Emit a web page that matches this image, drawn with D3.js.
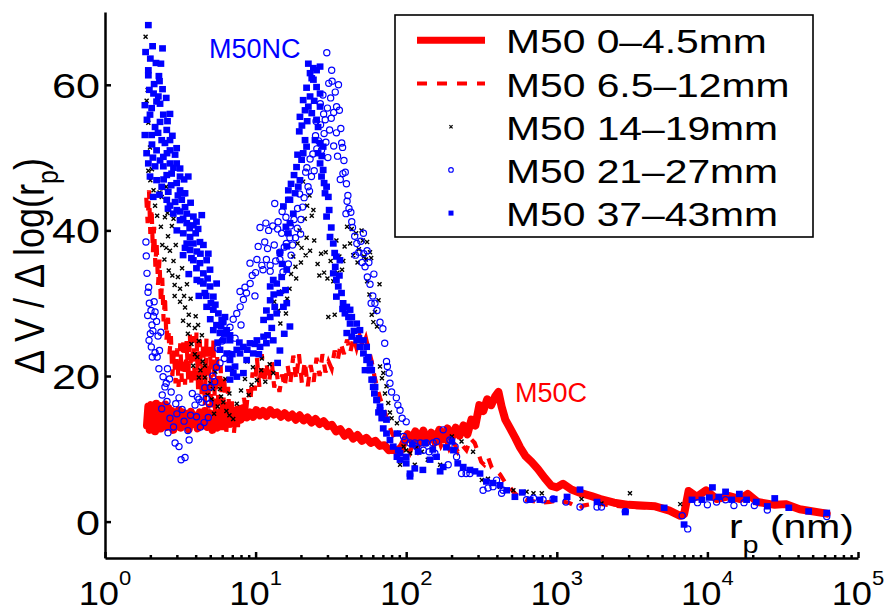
<!DOCTYPE html>
<html><head><meta charset="utf-8">
<script src="https://cdn.jsdelivr.net/npm/d3@7"></script>
<style>
body{margin:0;background:#fff}
svg{display:block}
text{font-family:"Liberation Sans",Arial,Helvetica,sans-serif}
</style>
</head><body>
<svg id="chart" width="889" height="614"></svg>
<script>
// ---------- data (r_p in nm, dV/dlog(r_p)) ----------
const xTickValues = [1, 10, 100, 1000, 10000, 100000];
const xTickExponents = ["0", "1", "2", "3", "4", "5"];
const yTickValues = [0, 20, 40, 60];
const seriesNames = ["M50 0\u20134.5mm", "M50 6.5\u201312mm", "M50 14\u201319mm", "M50 21\u201327mm", "M50 37\u201343mm"];
const annotations = ["M50NC", "M50C"];

const m50_0_45 = [[1.90,13.2],[1.94,15.8],[1.98,12.6],[2.02,16.0],[2.06,13.0],[2.10,15.5],[2.15,12.4],[2.19,16.2],[2.24,13.1],[2.29,15.9],[2.34,12.8],[2.39,15.4],[2.45,13.4],[2.51,16.1],[2.57,13.0],[2.63,15.6],[2.70,13.3],[2.77,15.2],[2.84,12.6],[2.92,14.9],[3.00,13.1],[3.09,15.3],[3.18,12.9],[3.28,15.0],[3.38,13.2],[3.49,14.8],[3.60,12.7],[3.72,15.1],[3.85,13.4],[3.98,14.6],[4.12,12.8],[4.27,15.0],[4.43,13.2],[4.60,15.2],[4.78,13.0],[4.97,14.9],[5.17,12.6],[5.38,14.7],[5.60,12.9],[5.84,15.1],[6.09,13.3],[6.36,15.0],[6.64,13.6],[6.94,15.3],[7.26,13.5],[7.60,15.4],[7.96,14.0],[8.34,15.6],[8.75,14.3],[9.18,15.0],[9.64,14.4],[10.1,15.3],[10.7,14.6],[11.2,15.2],[11.8,14.5],[12.5,15.3],[13.2,14.7],[13.9,15.0],[14.7,14.4],[15.6,14.9],[16.5,14.3],[17.5,14.7],[18.5,14.0],[19.6,14.6],[20.8,13.9],[22.1,14.3],[23.5,13.6],[25.0,14.1],[26.6,13.4],[28.3,13.8],[30.1,13.1],[32.1,13.3],[34.2,12.4],[36.5,12.7],[39.0,11.8],[41.6,12.3],[44.4,11.4],[47.5,11.9],[50.8,11.1],[54.4,11.5],[58.2,10.8],[62.3,11.1],[66.8,10.4],[71.6,10.5],[76.8,9.8],[82.4,10.0],[88.4,9.6],[94.8,10.5],[102,12.0],[108,11.2],[115,12.4],[122,10.8],[130,12.5],[138,11.0],[147,12.2],[156,10.9],[166,12.6],[177,11.3],[188,12.8],[200,11.5],[213,12.9],[226,11.8],[240,13.2],[255,12.0],[271,14.0],[288,13.2],[306,16.0],[325,15.2],[345,16.8],[367,16.0],[390,17.2],[410,17.8],[430,15.8],[455,14.0],[490,12.8],[530,11.5],[570,10.2],[620,9.0],[680,8.2],[750,7.2],[830,6.0],[920,4.9],[1000,4.7],[1100,5.2],[1250,4.4],[1450,3.9],[1700,3.5],[1950,3.1],[2400,2.6],[3000,2.3],[4500,2.1],[5600,1.5],[6600,0.8],[7000,1.0],[7500,4.2],[8500,3.4],[9800,4.3],[11500,3.1],[14000,3.5],[16500,3.1],[18500,3.8],[21500,2.7],[28000,2.3],[33000,2.4],[41000,1.7],[62000,1.1]];

const m50_65_12 = [[1.88,44.5],[1.92,41.0],[1.96,45.5],[2.00,39.5],[2.04,43.0],[2.08,37.0],[2.12,40.5],[2.16,35.0],[2.20,38.5],[2.25,32.5],[2.30,36.0],[2.35,30.0],[2.40,33.5],[2.45,27.5],[2.50,31.0],[2.56,25.0],[2.62,28.0],[2.68,23.0],[2.74,25.5],[2.80,20.0],[2.87,23.5],[2.94,19.0],[3.01,23.8],[3.08,18.5],[3.16,24.5],[3.24,19.2],[3.32,25.2],[3.40,18.8],[3.48,24.8],[3.57,19.5],[3.66,25.8],[3.75,18.6],[3.85,25.5],[3.95,19.0],[4.05,26.0],[4.15,18.2],[4.26,25.0],[4.37,17.5],[4.48,24.6],[4.60,16.0],[4.72,25.2],[4.85,15.5],[4.98,24.0],[5.11,14.0],[5.25,25.0],[5.40,13.2],[5.55,23.0],[5.70,12.8],[5.86,21.5],[6.03,12.2],[6.20,20.0],[6.38,11.8],[6.57,18.5],[6.76,12.5],[6.96,16.5],[7.17,12.0],[7.39,15.0],[7.62,12.8],[7.86,16.0],[8.11,14.0],[8.37,17.0],[8.64,15.0],[8.93,18.2],[9.23,16.5],[9.55,20.5],[9.88,18.0],[10.2,22.5],[10.6,18.5],[11.0,23.0],[11.4,19.0],[11.8,21.8],[12.3,19.2],[12.8,22.0],[13.3,18.4],[13.8,20.5],[14.4,17.8],[15.0,20.2],[15.6,18.5],[16.3,21.5],[17.0,19.0],[17.8,22.8],[18.6,19.5],[19.4,23.0],[20.3,19.0],[21.2,22.0],[22.2,18.6],[23.2,21.5],[24.3,19.2],[25.4,22.5],[26.6,20.0],[27.8,23.0],[29.1,20.5],[30.5,22.0],[32.0,21.0],[33.5,23.5],[35.1,22.2],[36.8,24.5],[38.6,23.0],[40.5,25.0],[42.5,23.2],[44.6,25.3],[46.8,23.8],[49.1,25.5],[51.5,24.0],[54.0,25.2],[56.5,23.5],[59.0,22.0],[61.5,20.0],[64.0,18.5],[67.0,17.0],[70.0,15.8],[73.5,14.5],[77.0,13.2],[81.0,12.0],[85.0,11.2],[90.0,10.2],[95.0,9.8],[100,10.6],[106,9.5],[112,11.0],[119,9.8],[126,11.6],[134,10.2],[142,11.8],[151,10.0],[160,12.0],[170,10.4],[181,11.5],[193,10.0],[206,11.0],[220,9.6],[235,10.5],[251,9.8],[268,11.4],[285,10.8],[300,9.5],[315,8.2],[330,7.8],[350,8.8],[370,7.4],[395,7.0],[420,6.5],[450,5.5],[480,4.9],[520,4.0],[560,3.4],[620,3.0],[700,2.8],[800,2.6],[900,2.7],[1000,2.9],[1200,2.6],[1426,1.8],[1500,2.2],[1800,2.5],[2400,2.2],[3000,2.0],[4500,1.9],[5600,1.4],[6600,0.7],[7000,0.9],[7500,4.0],[8500,3.3],[9800,4.2],[11500,3.0],[14000,3.4],[16500,3.0],[18500,3.6],[21500,2.6],[28000,2.2],[33000,2.3],[41000,1.6],[62000,1.0]];

const m50_14_19 = [[1.86,66.6],[1.92,59.3],[1.89,57.8],[1.94,54.8],[1.99,51.4],[1.94,48.2],[2.00,46.9],[2.10,45.5],[2.25,47.0],[2.38,44.6],[2.55,46.0],[2.68,43.5],[2.15,43.4],[2.45,45.8],[2.22,42.0],[2.35,40.5],[2.50,41.8],[2.62,39.2],[2.78,40.6],[2.95,38.0],[2.40,38.0],[2.70,37.2],[2.48,36.0],[2.65,34.5],[2.85,35.8],[3.05,33.6],[3.25,34.8],[2.90,32.5],[3.15,32.0],[2.90,31.0],[3.15,30.2],[3.40,29.4],[3.70,30.6],[4.00,28.2],[3.30,27.6],[3.60,27.0],[3.95,26.6],[3.55,25.8],[3.75,24.4],[3.95,23.0],[4.20,24.8],[4.45,22.0],[3.85,21.4],[4.30,20.8],[4.2,19.8],[4.6,21.4],[5.0,19.0],[5.4,20.6],[5.8,18.2],[6.3,19.6],[6.7,17.6],[4.8,17.4],[5.1,16.8],[5.6,15.8],[6.1,16.4],[6.7,14.6],[7.1,14.1],[5.3,14.8],[7.5,16.2],[8.0,18.0],[8.5,19.6],[9.0,17.4],[9.6,21.2],[10.2,19.4],[10.9,20.8],[11.6,19.2],[12.4,21.6],[13.1,20.4],[7.0,21.0],[8.8,22.0],[12.5,28.0],[13.3,30.2],[14.2,29.0],[15.0,31.6],[15.9,28.6],[16.8,32.0],[17.2,34.0],[17.8,36.4],[18.4,35.0],[19.0,38.2],[19.6,40.0],[20.2,37.6],[20.7,46.7],[21.2,41.6],[22.0,43.4],[22.8,44.8],[23.6,42.0],[24.2,42.8],[21.8,39.0],[23.0,37.2],[24.5,38.6],[25.8,35.4],[27.2,36.8],[28.5,34.2],[30.0,33.4],[31.5,35.8],[32.8,33.0],[30.4,28.1],[33.5,28.4],[34.4,38.6],[36.0,36.4],[37.5,34.6],[39.0,37.8],[40.5,40.5],[42.4,38.2],[44.5,36.6],[46.5,39.6],[48.5,37.4],[50.5,40.0],[52.5,36.4],[55.0,38.4],[57.5,37.0],[55.0,33.0],[57.0,31.2],[59.0,28.4],[62.0,28.8],[60.5,27.4],[64.0,26.8],[65.5,30.4],[66.5,32.6],[67.0,21.3],[69.0,19.7],[70.5,20.4],[72.3,17.6],[74.0,18.6],[76.0,16.3],[78.0,15.0],[80.0,14.2],[86.8,13.5],[90.0,12.2],[96.0,10.3],[100,9.8],[91.0,7.8],[106,9.4],[114,7.8],[117,10.2],[127,9.6],[139,8.5],[168,7.8],[201,11.7],[233,11.0],[278,9.6],[318,5.7],[349,5.9],[420,4.8],[515,4.3],[630,4.1],[700,3.9],[795,3.9],[1460,3.1],[1980,2.5],[3060,3.9],[6600,2.4],[2.05,48.4],[2.30,45.2],[2.60,42.4],[2.85,41.6],[2.55,37.6],[2.80,33.8],[3.50,32.6],[3.35,31.0],[3.60,28.4],[4.15,27.0],[4.40,25.6],[4.10,22.6],[4.60,19.8],[5.2,18.2],[5.9,17.2],[6.4,15.2],[9.4,18.8],[11.0,22.4],[14.6,27.2],[16.2,30.6],[18.6,33.4],[20.0,35.6],[21.5,36.6],[26.5,33.8],[29.2,37.0],[35.0,34.2],[38.2,35.8],[43.5,40.2],[47.5,35.6],[51.5,38.6],[54.0,36.0],[58.5,36.2]];

const m50_21_27 = [[1.87,38.4],[1.90,34.1],[1.93,31.5],[1.97,30.0],[1.95,32.2],[2.02,29.0],[2.10,28.2],[2.20,27.5],[2.05,27.0],[2.15,28.8],[2.00,25.8],[2.08,26.2],[2.25,25.5],[2.35,26.0],[2.15,23.2],[2.22,22.6],[2.30,23.5],[1.96,24.9],[2.06,22.6],[2.43,19.9],[2.55,19.0],[2.68,19.6],[2.50,18.5],[2.40,17.4],[2.58,16.5],[2.75,17.8],[2.95,16.2],[3.10,17.0],[2.70,14.2],[2.85,13.0],[2.92,10.8],[3.10,10.3],[3.55,12.5],[3.62,11.2],[3.35,13.8],[3.20,8.5],[3.40,8.8],[3.96,16.0],[4.20,16.8],[4.10,17.1],[4.40,16.4],[4.70,16.9],[4.95,16.2],[4.05,14.4],[4.30,13.0],[4.55,13.6],[4.85,14.3],[5.00,18.5],[5.20,20.0],[5.35,19.2],[5.50,21.2],[5.80,21.8],[6.20,22.4],[6.76,23.0],[6.76,26.7],[7.10,27.8],[7.50,28.6],[7.90,29.5],[8.30,30.5],[8.70,31.4],[7.88,31.6],[8.50,32.2],[9.20,32.7],[9.90,31.0],[9.18,35.5],[10.2,36.0],[11.0,35.2],[11.8,36.0],[11.2,34.6],[12.5,35.2],[10.7,40.4],[11.7,41.0],[12.2,40.0],[13.0,40.6],[13.4,43.7],[14.0,40.2],[14.9,39.6],[15.9,41.8],[14.5,37.0],[16.9,39.0],[12.5,34.4],[13.3,38.0],[14.1,41.2],[14.5,36.0],[15.2,34.3],[15.5,37.7],[16.5,35.4],[17.0,40.6],[18.0,41.5],[18.9,40.3],[17.6,38.0],[19.9,39.5],[20.5,43.2],[19.6,45.0],[21.5,48.0],[22.3,46.0],[21.9,48.6],[22.8,45.4],[23.0,49.8],[24.0,50.5],[25.5,51.2],[26.2,52.3],[27.4,51.0],[28.5,53.3],[29.3,52.1],[30.2,50.0],[25.2,55.0],[26.9,57.4],[28.3,56.0],[29.0,55.2],[30.0,56.8],[31.5,58.2],[32.2,60.5],[33.8,59.0],[34.5,57.0],[32.0,62.0],[29.7,64.4],[35.5,60.0],[36.0,56.5],[36.8,54.0],[37.3,52.0],[37.8,51.4],[38.6,49.6],[39.4,48.0],[38.0,47.8],[40.1,46.4],[41.0,44.8],[41.7,43.0],[39.8,42.3],[42.9,42.5],[44.0,40.4],[45.5,39.2],[47.0,38.2],[48.5,37.0],[50.0,38.5],[52.3,36.8],[53.3,35.0],[55.2,33.6],[57.5,32.6],[60.0,31.0],[62.0,30.0],[64.0,29.0],[67.0,27.4],[70.0,26.5],[72.0,24.5],[74.0,22.0],[75.0,21.3],[77.0,20.4],[78.0,19.0],[80.0,17.8],[86.0,17.0],[88.0,16.0],[91.0,15.3],[94.0,14.2],[100.0,13.7],[96.0,11.7],[98.0,11.2],[106.0,10.8],[114.0,10.8],[124.0,10.8],[136.0,10.8],[151.0,10.8],[159.0,11.0],[176.0,12.6],[117.0,10.3],[130.0,9.8],[142.0,9.6],[155.0,9.4],[195.0,11.2],[211.0,10.3],[216.0,8.9],[190.0,7.8],[233.0,6.6],[250.0,6.6],[265.0,6.6],[324.0,4.3],[349.0,4.6],[377.0,4.8],[398.0,5.7],[430.0,3.9],[440.0,4.3],[630.0,3.0],[700.0,3.2],[810.0,3.0],[945.0,3.1],[1150.0,2.7],[1426.0,2.0],[1850.0,2.0],[1980.0,2.0],[2850.0,1.4],[6800.0,0.8],[7400.0,-1.0],[8600.0,2.6],[10000.0,2.3],[11500.0,2.7],[13200.0,3.0],[15000.0,2.2],[17500.0,2.6],[20500.0,2.2],[25000.0,1.6],[62000.0,0.7],[1.88,36.5],[1.92,28.3],[2.12,30.2],[2.03,24.0],[2.28,21.0],[2.60,21.0],[2.38,15.5],[2.62,12.2],[3.00,14.8],[3.25,15.4],[3.70,14.6],[3.80,17.6],[4.60,18.4],[5.60,23.8],[6.00,24.8],[6.40,26.0],[7.30,25.2],[8.00,27.0],[9.50,33.8],[10.0,34.2],[10.4,37.8],[11.5,38.4],[12.0,37.5],[13.6,35.8],[15.0,42.6],[16.0,38.2],[17.2,36.6],[18.4,39.0],[19.0,43.0],[20.0,41.5],[21.0,44.5],[23.5,47.4],[24.5,48.2],[25.0,53.0],[27.0,54.5],[28.0,58.6],[30.6,60.2],[31.0,53.8],[31.8,55.4],[33.0,56.2],[33.0,51.6],[34.4,53.4],[35.0,50.2],[36.5,47.0],[40.5,44.0],[43.5,41.2],[46.0,36.6],[51.0,35.6],[58.5,30.0],[61.0,34.0],[52.0,39.6],[55.0,37.2],[56.5,35.6]];

const m50_37_43 = [[1.94,68.2],[2.07,65.3],[2.41,65.0],[2.18,63.0],[2.35,62.9],[1.94,62.0],[1.94,61.3],[2.12,60.1],[2.41,59.4],[1.97,59.3],[2.26,58.4],[1.84,57.2],[2.04,56.8],[2.20,57.7],[1.99,55.9],[2.44,55.9],[2.70,56.0],[1.84,53.1],[2.04,53.1],[2.15,54.2],[2.32,54.9],[2.57,53.8],[2.70,52.4],[2.38,52.4],[1.89,50.6],[2.20,51.0],[2.44,50.1],[2.70,51.0],[2.99,51.3],[2.92,50.4],[1.94,49.2],[2.15,48.8],[2.44,48.8],[2.70,49.2],[2.99,49.2],[3.15,48.5],[1.99,47.4],[2.20,46.9],[2.57,47.6],[2.77,47.8],[3.15,47.4],[3.57,47.4],[2.38,46.0],[2.63,45.3],[2.99,46.5],[3.15,45.5],[3.31,45.1],[2.09,44.6],[2.57,44.2],[2.92,43.9],[3.23,44.2],[3.40,45.1],[2.84,42.3],[3.15,42.6],[3.49,42.3],[3.86,41.9],[4.39,42.1],[3.15,41.4],[3.49,41.0],[3.86,40.7],[3.31,39.6],[3.67,39.1],[3.49,38.2],[3.86,38.2],[4.27,38.4],[4.07,37.1],[3.67,37.3],[3.86,35.9],[4.27,35.5],[4.73,35.9],[4.50,34.1],[4.98,34.6],[4.07,33.2],[4.50,32.7],[4.98,32.3],[5.51,32.7],[5.24,30.9],[4.73,29.5],[5.24,29.1],[5.66,28.6],[5.96,27.7],[6.26,28.1],[5.24,26.3],[5.80,25.9],[6.43,26.3],[6.76,25.6],[6.11,24.9],[5.80,23.6],[6.43,23.1],[6.76,22.2],[7.30,21.3],[7.11,20.4],[6.76,24.9],[7.50,23.6],[8.30,24.0],[9.18,24.5],[10.2,24.9],[11.3,25.4],[7.88,23.1],[8.72,22.2],[9.65,23.1],[10.7,24.0],[11.8,24.5],[13.1,24.9],[6.76,19.5],[7.50,19.9],[8.30,20.4],[11.3,27.7],[12.5,28.1],[13.8,28.6],[15.3,29.5],[16.1,30.0],[12.5,32.3],[13.8,32.7],[14.9,33.6],[16.1,34.6],[15.3,43.3],[16.5,44.2],[16.5,45.5],[2.30,60.5],[2.55,58.2],[2.05,51.8],[2.62,43.0],[3.00,40.0],[3.30,36.6],[3.60,34.0],[4.20,31.0],[4.60,31.4],[5.50,27.0],[4.85,36.8],[4.15,40.2],[14.5,23.5],[15.5,25.8],[16.9,26.8],[14.0,21.8],[12.5,30.4],[13.4,29.5],[14.5,31.4],[13.1,33.2],[14.5,36.9],[16.1,37.8],[16.5,39.6],[16.9,41.0],[17.8,42.3],[16.9,44.2],[18.3,45.1],[19.2,46.0],[19.7,46.9],[18.7,48.7],[20.2,49.7],[20.7,50.6],[21.8,51.5],[21.3,52.4],[19.7,55.6],[21.3,56.5],[20.7,57.9],[23.0,58.4],[22.4,57.0],[22.4,62.9],[23.0,61.6],[24.2,62.3],[25.4,62.0],[26.8,62.5],[24.2,60.7],[25.4,59.7],[26.8,58.8],[23.6,60.9],[23.6,56.1],[25.4,55.2],[26.0,54.2],[26.8,57.0],[24.8,52.4],[26.8,52.0],[28.1,51.5],[26.0,50.6],[26.8,49.2],[28.1,48.3],[27.4,47.4],[29.6,46.0],[28.9,45.1],[30.4,44.6],[29.6,41.9],[31.2,39.1],[32.8,38.2],[33.5,36.9],[34.4,36.4],[36.3,35.9],[32.8,34.1],[34.4,33.2],[35.4,32.3],[37.2,31.4],[34.4,30.9],[38.1,30.0],[39.2,28.6],[41.4,28.1],[42.4,27.2],[40.3,25.9],[43.5,25.4],[46.9,24.9],[49.3,24.0],[52.0,23.1],[54.6,22.2],[53.3,20.8],[57.5,20.8],[59.0,19.5],[60.4,18.5],[63.7,16.7],[67.0,15.8],[70.4,14.9],[74.0,14.0],[86.8,12.1],[91.0,9.4],[100,8.9],[106,6.6],[40.3,29.5],[42.4,29.1],[43.5,28.1],[46.9,27.2],[49.3,26.3],[52.0,24.9],[54.6,24.0],[57.5,21.7],[59.0,20.8],[60.4,19.5],[62.1,18.5],[63.7,16.7],[67.0,15.3],[68.8,14.2],[70.4,12.8],[74.0,12.1],[78.0,11.2],[82.0,10.3],[88.6,9.8],[86.8,8.9],[91,8.5],[100,8.0],[106,6.2],[114,7.3],[129,7.1],[144,8.5],[159,8.9],[168,6.9],[176,7.5],[110,10.6],[120,9.6],[133,10.8],[150,9.9],[185,10.2],[201,11.0],[206,9.8],[220,8.0],[239,7.5],[265,7.1],[286,6.9],[309,6.6],[341,5.5],[377,5.3],[420,5.0],[465,4.3],[527,3.4],[590,4.0],[665,3.0],[773,3.0],[960,3.1],[1170,3.4],[1426,4.4],[1850,2.7],[2850,1.3],[5160,1.9],[7000,-0.4],[7900,3.0],[9200,3.0],[10300,3.3],[10800,4.7],[11900,3.4],[13200,4.1],[14500,3.0],[16300,3.8],[18200,3.0],[21100,2.7],[25000,2.1],[28000,3.2],[34700,1.9],[47000,1.4],[62000,1.2],[1.86,64.5],[2.00,63.6],[2.28,61.2],[2.10,58.8],[2.32,57.4],[2.60,55.0],[1.90,55.2],[2.25,53.4],[2.50,52.0],[2.80,53.0],[2.08,50.0],[2.32,49.6],[2.58,50.6],[2.85,48.6],[3.35,47.0],[2.45,47.0],[2.75,46.2],[3.05,44.8],[2.30,44.9],[2.70,43.4],[3.40,43.2],[3.70,43.8],[3.00,42.8],[3.30,41.6],[4.05,41.2],[3.65,40.3],[4.00,39.6],[3.40,37.6],[4.50,38.0],[4.30,36.8],[3.75,36.2],[4.05,34.8],[4.80,33.4],[4.30,33.0],[4.70,31.0],[5.05,30.0],[5.40,29.8],[5.00,27.8],[5.90,26.8],[6.10,27.4],[5.60,24.6],[6.20,25.8],[6.60,21.0],[7.00,23.0],[7.80,24.6],[8.80,23.6],[9.90,24.4],[10.5,23.0],[12.0,25.6],[12.8,26.6],[11.8,29.0],[13.2,31.2],[15.8,31.8],[15.0,35.4],[15.9,40.5],[17.2,46.4],[18.0,47.6],[19.0,50.4],[19.5,53.6],[20.3,54.4],[21.8,59.6],[22.0,55.0],[24.5,57.8],[27.5,50.2],[28.5,46.5],[30.8,42.8],[31.8,40.4],[33.8,35.0],[36.0,33.8],[37.8,29.2],[45.0,26.2],[48.5,25.2],[56.0,22.6],[61.5,17.6],[65.5,15.0]];

// ---------- chart ----------
const RED = "#ff0000", BLUE = "#0000ff", BLACK = "#000000";
const TXS = 1.2; // horizontal glyph stretch of the original rendering
const svg = d3.select("#chart");
svg.append("rect").attr("width", 889).attr("height", 614).attr("fill", "#fff");

const x = d3.scaleLog().domain([1, 1e5]).range([105, 858]);
const y = d3.scaleLinear().domain([-5, 70]).range([558, 12]);

const line = d3.line().x(d => x(d[0])).y(d => y(d[1]));

const plot = svg.append("g");

// series 1: solid thick red line
plot.append("path").datum(m50_0_45).attr("d", line)
  .attr("fill", "none").attr("stroke", RED).attr("stroke-width", 8)
  .attr("stroke-linejoin", "round").attr("stroke-linecap", "round");

// series 2: dashed red line
plot.append("path").datum(m50_65_12).attr("d", line)
  .attr("fill", "none").attr("stroke", RED).attr("stroke-width", 4.2)
  .attr("stroke-dasharray", "10,9");

// series 3: black x markers
const xm = plot.append("g").attr("stroke", BLACK).attr("stroke-width", 1.4);
xm.selectAll("path").data(m50_14_19).join("path")
  .attr("d", d => { const cx = x(d[0]), cy = y(d[1]), s = 2.0;
    return `M${cx-s},${cy-s}L${cx+s},${cy+s}M${cx-s},${cy+s}L${cx+s},${cy-s}`; });

// series 4: blue open circles
plot.append("g").selectAll("circle").data(m50_21_27).join("circle")
  .attr("cx", d => x(d[0])).attr("cy", d => y(d[1])).attr("r", 3.1)
  .attr("fill", "none").attr("stroke", BLUE).attr("stroke-width", 1.2);

// series 5: blue filled squares
plot.append("g").selectAll("rect").data(m50_37_43).join("rect")
  .attr("x", d => x(d[0]) - 3.4).attr("y", d => y(d[1]) - 3.2)
  .attr("width", 6.8).attr("height", 6.4).attr("fill", BLUE);

// ---------- axes ----------
const axStroke = 2.5;
const yAxis = svg.append("g").attr("transform", "translate(105,0)")
  .call(d3.axisLeft(y).tickValues(yTickValues).tickSize(-6).tickSizeOuter(0).tickFormat(""));
const xAxisMinor = svg.append("g").attr("transform", "translate(0,558)")
  .call(d3.axisBottom(x).tickValues(x.ticks().filter(t => !xTickValues.includes(t))).tickSize(-3).tickSizeOuter(0).tickFormat(""));
const xAxis = svg.append("g").attr("transform", "translate(0,558)")
  .call(d3.axisBottom(x).tickValues(xTickValues).tickSize(-6).tickSizeOuter(0).tickFormat(""));
[yAxis, xAxis, xAxisMinor].forEach(g => {
  g.selectAll("path.domain").attr("stroke", BLACK).attr("stroke-width", axStroke);
  g.selectAll(".tick line").attr("stroke", BLACK).attr("stroke-width", axStroke);
});
xAxisMinor.select("path.domain").remove();

// y tick labels
yTickValues.forEach(t => {
  svg.append("text")
    .attr("transform", `translate(100,${y(t) + 13}) scale(${TXS},1)`)
    .attr("text-anchor", "end").attr("font-size", 36).attr("fill", BLACK)
    .text(t);
});

// x tick labels 10^n
xTickValues.forEach((t, i) => {
  const tx = svg.append("text")
    .attr("transform", `translate(${x(t)},605) scale(1.1,1)`)
    .attr("text-anchor", "middle").attr("font-size", 33).attr("fill", BLACK);
  tx.append("tspan").text("10");
  tx.append("tspan").attr("dy", -20).attr("font-size", 20).text(xTickExponents[i]);
});

// y axis label
const yl = svg.append("text")
  .attr("transform", `translate(44,266) rotate(-90) scale(1,1.17)`)
  .attr("text-anchor", "middle").attr("font-size", 36).attr("fill", BLACK);
yl.append("tspan").text("\u0394 V / \u0394 log(r");
yl.append("tspan").attr("dy", 12).attr("font-size", 25).text("p");
yl.append("tspan").attr("dy", -12).text(")");

// x axis label inside plot
const xl = svg.append("text")
  .attr("transform", `translate(729,538) scale(${TXS},1)`)
  .attr("font-size", 34).attr("fill", BLACK);
xl.append("tspan").text("r");
xl.append("tspan").attr("dy", 15).attr("font-size", 24).text("p");
xl.append("tspan").attr("dy", -15).text(" (nm)");

// annotations
svg.append("text").attr("x", 209).attr("y", 58).attr("font-size", 27)
  .attr("fill", BLUE).text(annotations[0]);
svg.append("text").attr("x", 515).attr("y", 402).attr("font-size", 27)
  .attr("fill", RED).text(annotations[1]);

// ---------- legend ----------
const lg = svg.append("g");
lg.append("rect").attr("x", 395).attr("y", 15).attr("width", 418).attr("height", 222)
  .attr("fill", "#fff").attr("stroke", BLACK).attr("stroke-width", 1.6);
const rowY = i => 53.3 + i * 43.2;
seriesNames.forEach((name, i) => {
  lg.append("text").attr("transform", `translate(506,${rowY(i)}) scale(${TXS},1)`)
    .attr("font-size", 34).attr("fill", BLACK).text(name);
});
const my = i => rowY(i) - 13;
lg.append("line").attr("x1", 417).attr("x2", 485).attr("y1", my(0)).attr("y2", my(0))
  .attr("stroke", RED).attr("stroke-width", 7);
lg.append("line").attr("x1", 417).attr("x2", 485).attr("y1", my(1)).attr("y2", my(1))
  .attr("stroke", RED).attr("stroke-width", 4).attr("stroke-dasharray", "10,10");
{
  const cx = 451, cy = my(2), s = 1.6;
  lg.append("path").attr("d", `M${cx-s},${cy-s}L${cx+s},${cy+s}M${cx-s},${cy+s}L${cx+s},${cy-s}`)
    .attr("stroke", BLACK).attr("stroke-width", 1.2);
}
lg.append("circle").attr("cx", 451).attr("cy", my(3)).attr("r", 2.3)
  .attr("fill", "none").attr("stroke", BLUE).attr("stroke-width", 1.1);
lg.append("rect").attr("x", 448.5).attr("y", my(4) - 2.5).attr("width", 5).attr("height", 5)
  .attr("fill", BLUE);
</script>
</body></html>
